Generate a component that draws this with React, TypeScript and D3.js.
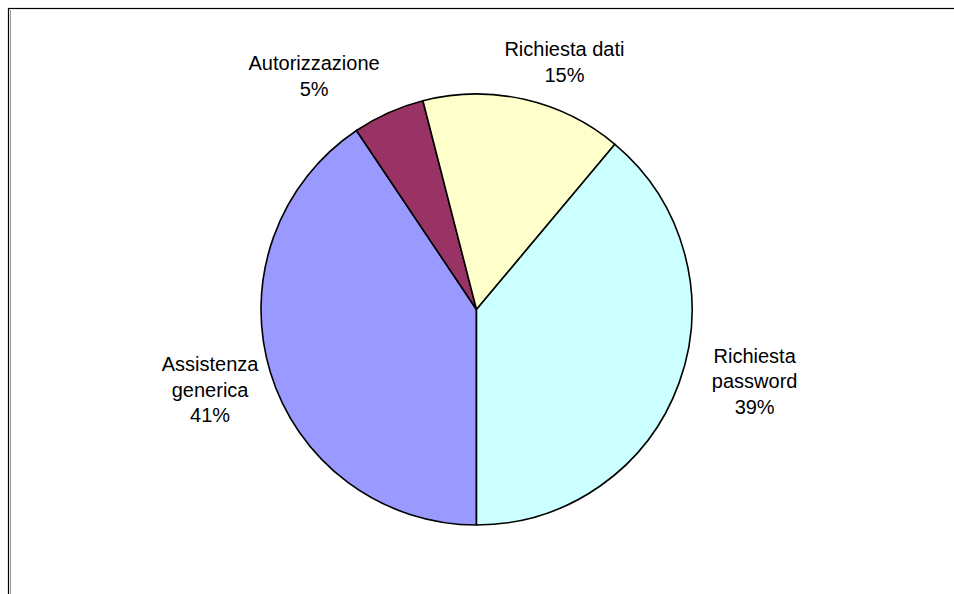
import React from "react";
import * as d3 from "d3";

const categories = ["Assistenza generica", "Autorizzazione", "Richiesta dati", "Richiesta password"];
const values = [40.6, 5.4, 15.1, 38.9];
const labelLines = [["Assistenza", "generica"], ["Autorizzazione"], ["Richiesta dati"], ["Richiesta", "password"]];
const colors = ["#9999FF", "#993366", "#FFFFCC", "#CCFFFF"];

const W = 954;
const H = 594;
const cx = 476.5;
const cy = 309.5;
const R = 215.5;
const labelR = 280;
const fontSize = 20;
const lineH = 25.5;
// layout nudges to mimic the original label placement
const labelNudge: [number, number][] = [[1.5, -1], [-48, 22], [26, 25.5], [15, -24]];

export default function App() {
  const pie = d3
    .pie<number>()
    .sort(null)
    .startAngle(Math.PI)
    .endAngle(3 * Math.PI)
    .value((d) => d);
  const arcs = pie(values);
  const arc = d3.arc<d3.PieArcDatum<number>>().innerRadius(0).outerRadius(R);
  const total = d3.sum(values);

  return (
    <svg
      width={W}
      height={H}
      style={{ position: "absolute", left: 0, top: 0, display: "block" }}
      fontFamily="Arial, 'Liberation Sans', sans-serif"
    >
      <rect x={0} y={0} width={W} height={H} fill="#fff" />
      <rect x={8.5} y={8.5} width={W + 20} height={H + 20} fill="none" stroke="#000" strokeWidth={1.2} />
      <line x1={10.5} y1={10} x2={10.5} y2={H} stroke="#999" strokeWidth={1} />
      <g transform={`translate(${cx},${cy})`}>
        {arcs.map((a, i) => (
          <path key={categories[i]} d={arc(a) || ""} fill={colors[i]} stroke="#000" strokeWidth={1.6} strokeLinejoin="round" />
        ))}
      </g>
      {arcs.map((a, i) => {
        const mid = (a.startAngle + a.endAngle) / 2;
        const x = cx + labelR * Math.sin(mid) + labelNudge[i][0];
        const y = cy - labelR * Math.cos(mid) + labelNudge[i][1];
        const pct = Math.round((values[i] / total) * 100) + "%";
        const lines = [...labelLines[i], pct];
        const n = lines.length;
        return (
          <text key={categories[i]} textAnchor="middle" fontSize={fontSize} fill="#000">
            {lines.map((l, j) => (
              <tspan key={j} x={x} y={y + (j - (n - 1) / 2) * lineH + 7}>
                {l}
              </tspan>
            ))}
          </text>
        );
      })}
    </svg>
  );
}
